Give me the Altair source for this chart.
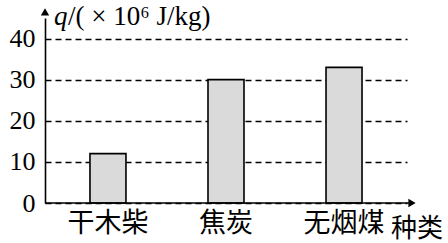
import altair as alt
import pandas as pd

categories = ["干木柴", "焦炭", "无烟煤"]
values = [12, 30, 33]
y_ticks = [0, 10, 20, 30, 40]

df = pd.DataFrame({"fuel": categories, "q": values})

SERIF = "'Liberation Serif', 'Times New Roman', 'DejaVu Serif', serif"
CJK = "'Noto Sans CJK SC', sans-serif"

W, H = 362, 185
xscale = alt.Scale(domain=categories, paddingInner=0.695, paddingOuter=0.381)
yscale = alt.Scale(domain=[0, 45], nice=False)

bars = alt.Chart(df).mark_bar(
    fill="#dadada", stroke="black", strokeWidth=1.6
).encode(
    x=alt.X("fuel:N", scale=xscale, sort=categories,
            axis=alt.Axis(title=None, labelAngle=0, labelFont=CJK,
                          labelFontSize=27, labelFontWeight="normal",
                          labelColor="black", labelPadding=7,
                          ticks=False, domain=False, grid=False)),
    y=alt.Y("q:Q", scale=yscale,
            axis=alt.Axis(title=None, values=y_ticks, labelFont=SERIF,
                          labelFontSize=26, labelColor="black", labelPadding=10,
                          ticks=False, domain=True, domainColor="black",
                          domainWidth=1.6, grid=True, gridColor="black",
                          gridDash=[6, 4], gridWidth=1.3)),
)

xaxis_line = alt.Chart(pd.DataFrame({"q": [0]})).mark_rule(
    color="black", strokeWidth=1.6
).encode(x=alt.value(0), x2=alt.value(366), y=alt.Y("q:Q", scale=yscale))

x_arrow = alt.Chart(pd.DataFrame({"q": [0]})).mark_point(
    shape="triangle-right", filled=True, color="black", size=70, opacity=1
).encode(x=alt.value(367), y=alt.Y("q:Q", scale=yscale))

y_arrow = alt.Chart(pd.DataFrame({"q": [46.5]})).mark_point(
    shape="triangle-up", filled=True, color="black", size=70, opacity=1
).encode(x=alt.value(0), y=alt.Y("q:Q", scale=yscale))

title_q = alt.Chart(pd.DataFrame({"t": ["q"]})).mark_text(
    font=SERIF, fontSize=27, fontStyle="italic", align="left",
    baseline="alphabetic", color="black"
).encode(x=alt.value(9), y=alt.value(7), text="t:N")

title_rest = alt.Chart(pd.DataFrame({"t": ["/( × 10⁶ J/kg)"]})).mark_text(
    font=SERIF, fontSize=27, align="left",
    baseline="alphabetic", color="black"
).encode(x=alt.value(23), y=alt.value(7), text="t:N")

xlabel = alt.Chart(pd.DataFrame({"t": ["种类"]})).mark_text(
    font=CJK, fontSize=26, align="left",
    baseline="alphabetic", color="black"
).encode(x=alt.value(346), y=alt.value(219), text="t:N")

chart = alt.layer(
    bars, xaxis_line, x_arrow, y_arrow, title_q, title_rest, xlabel
).properties(
    width=W, height=H, autosize="none",
    padding={"left": 45, "top": 18, "right": 41, "bottom": 40},
    background="white",
).configure_view(stroke=None)

chart.save("out.html", embed_options={"renderer": "svg", "actions": False})
